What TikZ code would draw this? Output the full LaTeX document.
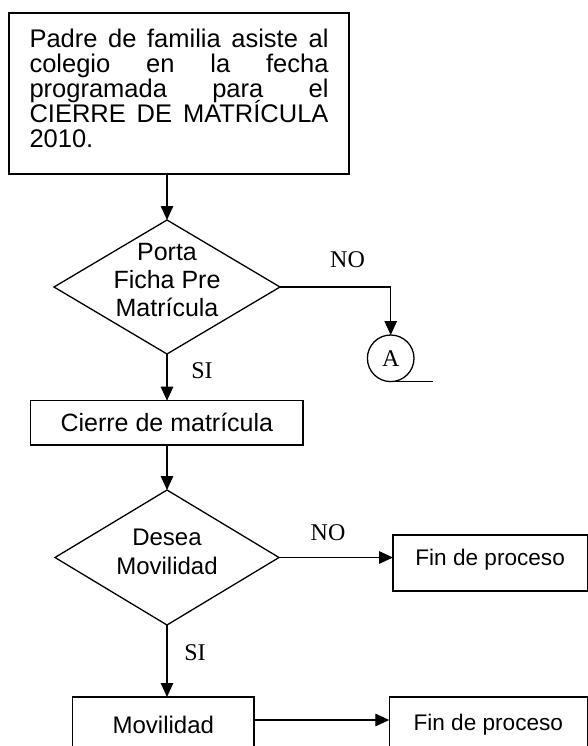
\documentclass[tikz,border=0pt]{standalone}
\usepackage{fontspec}
\newfontfamily\arialf{Liberation Sans}
\newfontfamily\timesf{Liberation Serif}
\usetikzlibrary{arrows.meta, shapes.geometric, positioning}

\begin{document}
\begin{tikzpicture}[x=1pt, y=-1pt, line width=1.3pt, >={Triangle[length=14pt,width=12.5pt]},
	caja/.style={draw, rectangle, inner sep=0pt, outer sep=0pt},
	rombo/.style={draw, diamond, inner sep=0pt, outer sep=0pt},
	etiq/.style={font=\timesf\fontsize{24}{26}\selectfont, anchor=base}]
								\useasboundingbox (0,0) rectangle (588,746); \clip (0,0) rectangle (588,746);
								% inicio
								\node[caja, minimum width=340pt, minimum height=161pt, text width=299pt, align=justify, font={\arialf\fontsize{25.5}{25}\selectfont\lineskiplimit -20pt\relax}] (inicio) at (179,93.5) {Padre de familia asiste al\linebreak colegio en la fecha\linebreak programada para el\linebreak CIERRE DE MATRÍCULA\linebreak 2010.\rule[-11pt]{0pt}{11pt}};
								\node[rombo, minimum width=226pt, minimum height=134pt] (porta) at (167,287) {};
								\node[align=center, font=\arialf\fontsize{25}{28}\selectfont] (portatxt) at (167,280) {Porta\\Ficha Pre\\Matrícula};
								\node[etiq] (no1) at (347.5,267) {NO}; \node[etiq] (si1) at (202,378) {SI};
								\node[draw, circle, minimum size=46.6pt, inner sep=0pt, outer sep=0pt, font=\timesf\fontsize{24}{26}\selectfont] (conA) at (390.7,358.3) {A};
								
								% cierre y movilidad
								\node[caja, minimum width=272.3pt, minimum height=44.3pt, font=\arialf\fontsize{25}{28}\selectfont] (cierre) at (166.85,422.85) {Cierre de matrícula};
								\node[rombo, minimum width=224pt, minimum height=135pt] (desea) at (167,557.5) {};
								\node[align=center, font=\arialf\fontsize{24}{29}\selectfont] (deseatxt) at (167,552) {Desea\\Movilidad};
								\node[etiq] (no2) at (328,540) {NO}; \node[etiq] (si2) at (195,660) {SI};
								\node[caja, minimum width=194.3pt, minimum height=56pt, text height=14pt, text depth=10pt, font=\arialf\fontsize{22.6}{26}\selectfont] (fin1) at (490.15,563) {Fin de proceso};
								\node[caja, minimum width=181.3pt, minimum height=56pt, font=\arialf\fontsize{24}{27}\selectfont] (movil) at (163.35,725) {Movilidad};
								\node[caja, minimum width=198pt, minimum height=56pt, font=\arialf\fontsize{22.6}{26}\selectfont] (fin2) at (488.3,725) {Fin de proceso};
								
								% flechas
								\draw[->] (porta.north |- inicio.south) -- (porta.north);
								\draw[->] (porta.south) -- (porta.south |- cierre.north);
								\draw[->] (porta.east) -- (porta.east -| conA.north) -- (conA.north); \draw (conA.south) -- ++(42,0);
								\draw[->] (desea.north |- cierre.south) -- (desea.north);
								\draw[->] (desea.east) -- (desea.east -| fin1.west);
								\draw[->] (desea.south) -- (desea.south |- movil.north);
								\draw[->] ([yshift=5pt]movil.east) -- ([yshift=5pt]fin2.west);
							\end{tikzpicture}
\end{document}
